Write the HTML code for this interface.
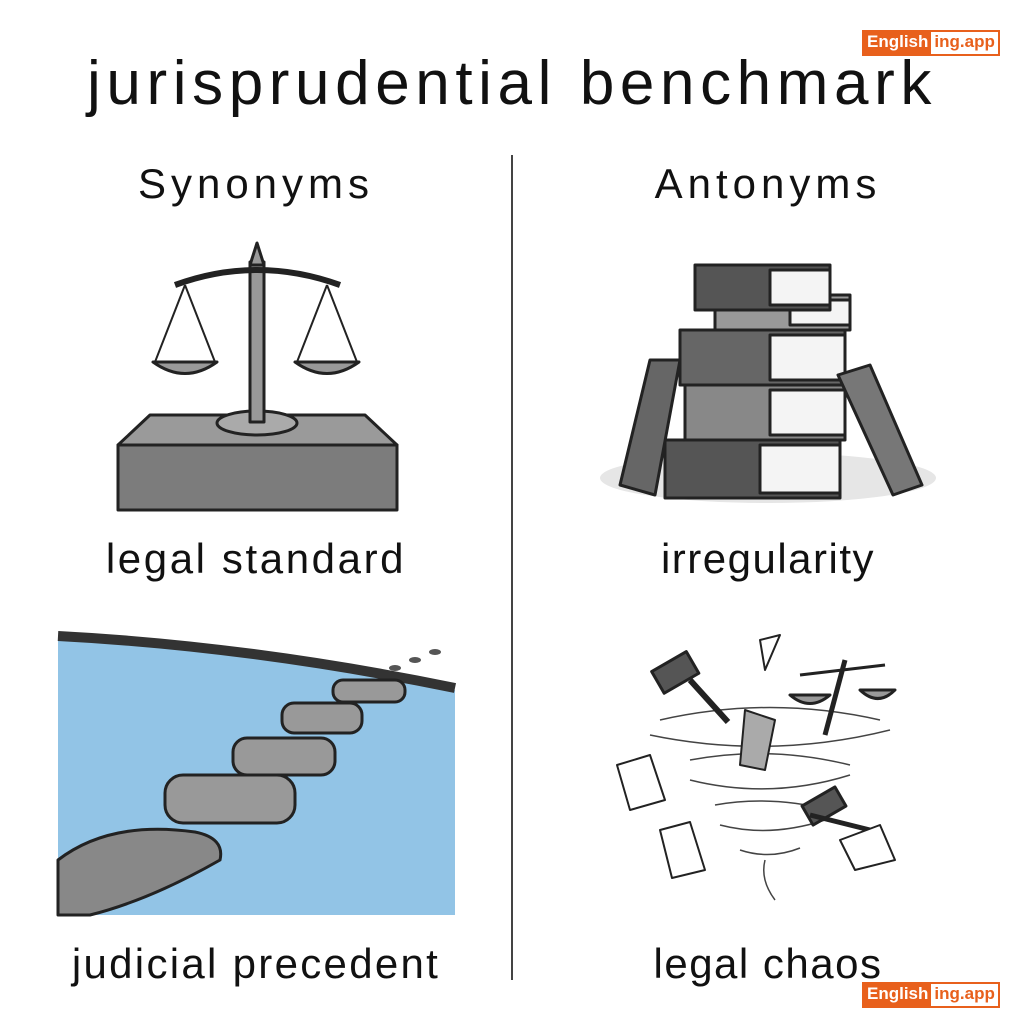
<!DOCTYPE html>
<html><head><meta charset="utf-8"><style>
body{margin:0;width:1024px;height:1024px;background:#fff;position:relative;overflow:hidden;font-family:"Liberation Sans","DejaVu Sans",sans-serif;color:#111}
.t{position:absolute;text-align:center;white-space:nowrap}
.logo{position:absolute;height:22px;font-size:17px;font-weight:bold;display:flex;border:2px solid #e8601c}
.logo span{padding:0 3px;line-height:20px}
</style></head><body>
<div class="t" style="left:0;width:1024px;top:48px;font-size:62px;letter-spacing:5.6px">jurisprudential benchmark</div>
<div class="t" style="left:0;width:512px;top:160px;font-size:42px;letter-spacing:5px">Synonyms</div>
<div class="t" style="left:512px;width:512px;top:160px;font-size:42px;letter-spacing:5px">Antonyms</div>
<div class="t" style="left:0;width:512px;top:535px;font-size:42px;letter-spacing:2.6px">legal standard</div>
<div class="t" style="left:512px;width:512px;top:535px;font-size:42px;letter-spacing:1.5px">irregularity</div>
<div class="t" style="left:0;width:512px;top:940px;font-size:42px;letter-spacing:2.3px">judicial precedent</div>
<div class="t" style="left:512px;width:512px;top:940px;font-size:42px;letter-spacing:1.5px">legal chaos</div>
<div style="position:absolute;left:511px;top:155px;width:2px;height:825px;background:#444"></div>
<div class="logo" style="left:862px;top:30px"><span style="background:#e8601c;color:#fff">English</span><span style="color:#e8601c;background:#fff">ing.app</span></div>
<div class="logo" style="left:862px;top:982px"><span style="background:#e8601c;color:#fff">English</span><span style="color:#e8601c;background:#fff">ing.app</span></div>
<svg width="1024" height="1024" style="position:absolute;left:0;top:0" stroke="#222" stroke-width="3" stroke-linejoin="round">
<polygon points="118,445 150,415 365,415 397,445" fill="#9a9a9a"/>
<rect x="118" y="445" width="279" height="65" fill="#7c7c7c"/>
<ellipse cx="257" cy="423" rx="40" ry="12" fill="#aaa"/>
<rect x="250" y="262" width="14" height="160" fill="#999"/>
<polygon points="257,243 250,265 264,265" fill="#999"/>
<path d="M175,285 Q257,255 340,285" fill="none" stroke-width="6"/>
<line x1="185" y1="285" x2="155" y2="362" stroke-width="2"/><line x1="185" y1="285" x2="215" y2="362" stroke-width="2"/>
<line x1="327" y1="285" x2="297" y2="362" stroke-width="2"/><line x1="327" y1="285" x2="357" y2="362" stroke-width="2"/>
<path d="M153,362 L217,362 Q185,385 153,362Z" fill="#999"/>
<path d="M295,362 L359,362 Q327,385 295,362Z" fill="#999"/>
<ellipse cx="768" cy="478" rx="168" ry="25" fill="#e6e6e6" stroke="none"/>
<rect x="665" y="440" width="175" height="58" fill="#555"/><rect x="760" y="445" width="80" height="48" fill="#f4f4f4"/>
<rect x="685" y="385" width="160" height="55" fill="#888"/><rect x="770" y="390" width="75" height="45" fill="#f4f4f4"/>
<rect x="680" y="330" width="165" height="55" fill="#666"/><rect x="770" y="335" width="75" height="45" fill="#f4f4f4"/>
<rect x="715" y="295" width="135" height="35" fill="#999"/><rect x="790" y="300" width="60" height="25" fill="#f4f4f4"/>
<rect x="695" y="265" width="135" height="45" fill="#555"/><rect x="770" y="270" width="60" height="35" fill="#f4f4f4"/>
<polygon points="650,360 680,360 655,495 620,485" fill="#666"/>
<polygon points="838,375 870,365 922,485 893,495" fill="#777"/>
<polygon points="58,640 280,655 455,690 455,915 58,915" fill="#92c4e6" stroke="none"/>
<path d="M58,636 Q250,646 455,688" fill="none" stroke-width="10" stroke="#333"/>
<rect x="333" y="680" width="72" height="22" rx="10" fill="#999"/>
<rect x="282" y="703" width="80" height="30" rx="12" fill="#999"/>
<rect x="233" y="738" width="102" height="37" rx="14" fill="#999"/>
<rect x="165" y="775" width="130" height="48" rx="18" fill="#999"/>
<path d="M58,860 Q110,820 195,832 Q225,838 220,860 Q150,900 90,915 L58,915Z" fill="#888"/>
<g fill="#555" stroke="none"><ellipse cx="395" cy="668" rx="6" ry="3"/><ellipse cx="415" cy="660" rx="6" ry="3"/><ellipse cx="435" cy="652" rx="6" ry="3"/></g>
<g fill="none" stroke-width="1.5" stroke="#444">
<path d="M660,720 Q770,695 880,720"/><path d="M650,735 Q770,760 890,730"/><path d="M690,760 Q770,745 850,765"/><path d="M690,780 Q770,800 850,775"/><path d="M715,805 Q770,795 830,810"/><path d="M720,825 Q770,838 825,820"/><path d="M740,850 Q770,860 800,848"/><path d="M765,860 Q760,880 775,900"/>
</g>
<rect x="655" y="660" width="40" height="25" transform="rotate(-30 675 672)" fill="#555"/>
<line x1="690" y1="680" x2="728" y2="722" stroke-width="6"/>
<rect x="805" y="795" width="38" height="22" transform="rotate(-30 824 806)" fill="#555"/>
<line x1="810" y1="815" x2="870" y2="830" stroke-width="5"/>
<line x1="800" y1="675" x2="885" y2="665"/><line x1="845" y1="660" x2="825" y2="735" stroke-width="5"/>
<path d="M790,695 L830,695 Q810,712 790,695Z" fill="#999"/><path d="M860,690 L895,690 Q878,707 860,690Z" fill="#999"/>
<polygon points="617,765 650,755 665,800 630,810" fill="#fff" stroke-width="2"/>
<polygon points="660,830 690,822 705,870 672,878" fill="#fff" stroke-width="2"/>
<polygon points="840,840 880,825 895,860 855,870" fill="#fff" stroke-width="2"/>
<polygon points="745,710 775,720 765,770 740,765" fill="#aaa" stroke-width="2"/>
<polygon points="760,640 780,635 765,670" fill="#fff" stroke-width="2"/>
</svg>
</body></html>
